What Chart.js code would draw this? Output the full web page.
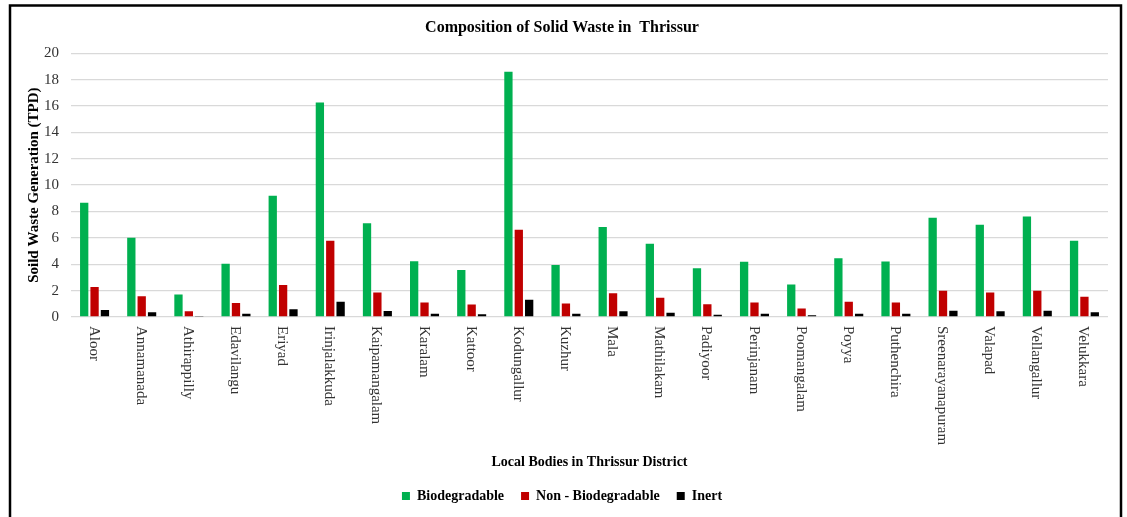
<!DOCTYPE html>
<html>
<head>
<meta charset="utf-8">
<title>Composition of Solid Waste in Thrissur</title>
<script src="https://cdn.jsdelivr.net/npm/chart.js@4"></script>
<style>
    html, body { margin: 0; padding: 0; background: #fff; }
    #wrap { width: 1127px; height: 517px; position: relative; }
</style>
</head>
<body>
<div id="wrap"><canvas id="wasteChart"></canvas></div>
<script>
// Local bodies on the x axis
const localBodies = ['Aloor', 'Annamanada', 'Athirappilly', 'Edavilangu', 'Eriyad', 'Irinjalakkuda',
    'Kaipamangalam', 'Karalam', 'Kattoor', 'Kodungallur', 'Kuzhur', 'Mala', 'Mathilakam', 'Padiyoor',
    'Perinjanam', 'Poomangalam', 'Poyya', 'Puthenchira', 'Sreenarayanapuram', 'Valapad',
    'Vellangallur', 'Velukkara'];

// Solid waste generation (TPD)
const biodegradable = [8.66, 6.01, 1.71, 4.03, 9.2, 16.27, 7.1, 4.23, 3.57, 18.6, 3.95,
    6.83, 5.55, 3.69, 4.18, 2.47, 4.46, 4.2, 7.52, 7.0, 7.62, 5.78];
const nonBiodegradable = [2.27, 1.58, 0.43, 1.07, 2.42, 5.78, 1.86, 1.1, 0.94, 6.62, 1.02,
    1.81, 1.45, 0.97, 1.1, 0.64, 1.15, 1.1, 1.99, 1.86, 1.99, 1.53];
const inert = [0.53, 0.36, 0.08, 0.25, 0.59, 1.15, 0.46, 0.25, 0.2, 1.3, 0.25,
    0.43, 0.33, 0.18, 0.25, 0.13, 0.25, 0.25, 0.48, 0.43, 0.48, 0.36];

const yTicks = [0, 2, 4, 6, 8, 10, 12, 14, 16, 18, 20];

const serif = '"Liberation Serif", "DejaVu Serif", serif';

// outer frame round the whole figure
const framePlugin = {
    id: 'frame',
    afterDraw(chart) {
        const ctx = chart.ctx;
        ctx.save();
        ctx.strokeStyle = '#000';
        ctx.lineWidth = 2.5;
        ctx.strokeRect(10, 5.5, 1111, 520);
        ctx.restore();
    }
};

// category names read top to bottom (turned clockwise)
const downLabelsPlugin = {
    id: 'downLabels',
    afterDatasetsDraw(chart) {
        const ctx = chart.ctx;
        const xs = chart.scales.x;
        ctx.save();
        ctx.font = '15px ' + serif;
        ctx.fillStyle = '#333';
        ctx.textAlign = 'left';
        ctx.textBaseline = 'middle';
        localBodies.forEach((name, i) => {
            const x = xs.getPixelForTick(i);
            ctx.save();
            ctx.translate(x - 1, xs.top + 9);
            ctx.rotate(Math.PI / 2);
            ctx.fillText(name, 0, 0);
            ctx.restore();
        });
        ctx.restore();
    }
};

function initWasteChart() {
    const ctx = document.getElementById('wasteChart');

    new Chart(ctx, {
        type: 'bar',
        data: {
            labels: localBodies,
            datasets: [
                { label: 'Biodegradable', data: biodegradable, backgroundColor: '#00B050' },
                { label: 'Non - Biodegradable', data: nonBiodegradable, backgroundColor: '#C00000' },
                { label: 'Inert', data: inert, backgroundColor: '#000000' }
            ]
        },
        options: {
            responsive: true,
            maintainAspectRatio: false,
            animation: false,
            categoryPercentage: 0.66,
            barPercentage: 0.8,
            layout: {
                padding: { left: 16, right: 19, top: 0, bottom: 4 }
            },
            scales: {
                x: {
                    grid: { display: false },
                    border: { display: false },
                    ticks: { display: false },
                    title: {
                        display: true,
                        text: 'Local Bodies in Thrissur District',
                        color: '#000',
                        font: { family: serif, size: 14, weight: 'bold' },
                        padding: { top: 0, bottom: 1 }
                    },
                    afterFit(scale) { scale.height = 155; }
                },
                y: {
                    min: 0,
                    max: 20,
                    afterBuildTicks(scale) { scale.ticks = yTicks.map(v => ({ value: v })); },
                    grid: { color: '#d9d9d9', lineWidth: 1.3, drawTicks: false },
                    border: { display: false },
                    ticks: {
                        color: '#333',
                        padding: 12,
                        font: { family: serif, size: 15 }
                    },
                    title: {
                        display: true,
                        text: 'Soild Waste Generation (TPD)',
                        color: '#000',
                        font: { family: serif, size: 15, weight: 'bold' },
                        padding: { top: 9, bottom: 0 }
                    },
                    afterFit(scale) { scale.width = 55; }
                }
            },
            plugins: {
                title: {
                    display: true,
                    text: 'Composition of Solid Waste in  Thrissur',
                    color: '#000',
                    font: { family: serif, size: 16, weight: 'bold' },
                    padding: { top: 18, bottom: 16 }
                },
                legend: {
                    display: true,
                    position: 'bottom',
                    labels: {
                        color: '#000',
                        boxWidth: 8,
                        boxHeight: 8,
                        padding: 17,
                        font: { family: serif, size: 14, weight: 'bold' }
                    }
                },
                tooltip: { enabled: false }
            }
        },
        plugins: [framePlugin, downLabelsPlugin]
    });
}

document.addEventListener('DOMContentLoaded', initWasteChart);
</script>
</body>
</html>
